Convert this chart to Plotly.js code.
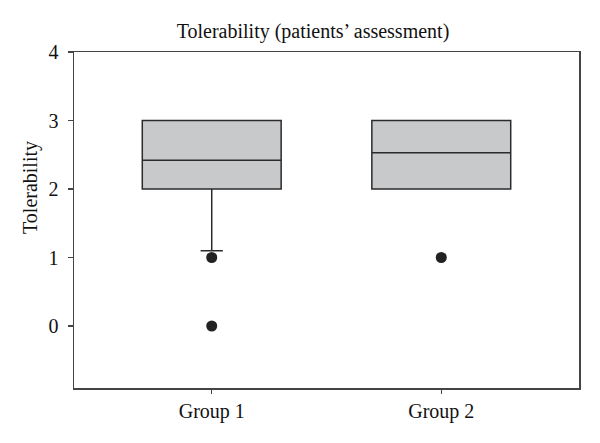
<!DOCTYPE html>
<html>
<head>
<meta charset="utf-8">
<script src="https://cdn.plot.ly/plotly-3.0.1.min.js"></script>
<style>html,body{margin:0;padding:0;background:#fff;}#chart{width:600px;height:443px;}</style>
</head>
<body>
<div id="chart"></div>
<script>
const groups = ['Group 1', 'Group 2'];
const q1 = [2, 2];
const medians = [2.42, 2.53];
const q3 = [3, 3];
const lowerFences = [1.1, 2];
const upperFences = [3, 3];
const outlierX = ['Group 1', 'Group 1', 'Group 2'];
const outlierY = [1, 0, 1];
const yTicks = [0, 1, 2, 3, 4];

const serif = 'Liberation Serif, Times New Roman, serif';

const data = [
  {
    type: 'box',
    x: groups,
    q1: q1,
    median: medians,
    q3: q3,
    lowerfence: lowerFences,
    upperfence: upperFences,
    boxpoints: false,
    width: 0.605,
    whiskerwidth: 0.16,
    fillcolor: '#c8c9cb',
    line: {color: '#2b2b2b', width: 1.5},
    showlegend: false,
    hoverinfo: 'skip'
  },
  {
    type: 'scatter',
    mode: 'markers',
    x: outlierX,
    y: outlierY,
    marker: {color: '#222222', size: 11},
    showlegend: false,
    hoverinfo: 'skip'
  }
];

const layout = {
  width: 600,
  height: 443,
  margin: {l: 74, r: 21, t: 52, b: 55},
  paper_bgcolor: '#ffffff',
  plot_bgcolor: '#ffffff',
  font: {family: serif, color: '#111111', size: 20},
  title: {
    text: 'Tolerability (patients’ assessment)',
    font: {family: serif, size: 20, color: '#111111'},
    xref: 'paper', x: (313 - 74) / 505, xanchor: 'center',
    y: 1 - 31 / 443, yref: 'container', yanchor: 'middle'
  },
  xaxis: {
    type: 'category',
    categoryorder: 'array',
    categoryarray: groups,
    range: [-0.6, 1.6],
    showline: true, mirror: true,
    linecolor: '#444444', linewidth: 1.5,
    ticks: 'outside', ticklen: 4, tickwidth: 1.2, tickcolor: '#444444',
    showgrid: false, zeroline: false,
    tickfont: {family: serif, size: 20, color: '#111111'},
    fixedrange: true
  },
  yaxis: {
    range: [-0.905, 4],
    tickvals: yTicks,
    ticktext: yTicks.map(String),
    showline: true, mirror: true,
    linecolor: '#444444', linewidth: 1.5,
    ticks: 'outside', ticklen: 5, tickwidth: 1.2, tickcolor: '#444444',
    ticklabelstandoff: 5,
    showgrid: false, zeroline: false,
    tickfont: {family: serif, size: 20, color: '#111111'},
    fixedrange: true
  },
  annotations: [{
    text: 'Tolerability',
    textangle: -90,
    xref: 'paper', yref: 'paper',
    x: (30 - 74) / 505, y: (388 - 188) / 336,
    xanchor: 'center', yanchor: 'middle',
    showarrow: false,
    font: {family: serif, size: 20, color: '#111111'}
  }]
};

Plotly.newPlot('chart', data, layout, {displayModeBar: false, staticPlot: true});
</script>
</body>
</html>
